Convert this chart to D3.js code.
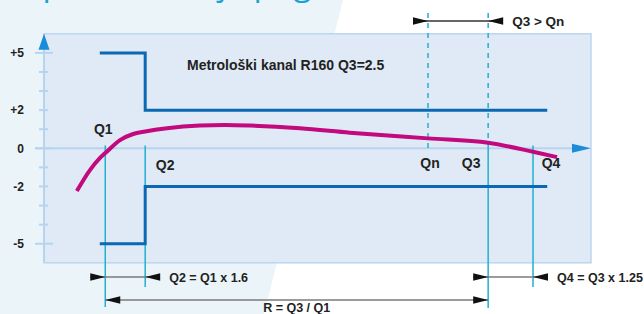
<!DOCTYPE html>
<html>
<head>
<meta charset="utf-8">
<script src="https://cdn.jsdelivr.net/npm/d3@7"></script>
<style>
  body { margin: 0; background: #fff; }
  svg { display: block; }
  text { font-family: "Liberation Sans", Arial, sans-serif; fill: #222; }
</style>
</head>
<body>
<div id="chart"></div>
<script>
// flow markers (schematic x position, 0..100) and their names
const qNames = ['Q1', 'Q2', 'Qn', 'Q3', 'Q4']
const qPos = [11.2, 18.5, 70.2, 81.2, 89.4]

// y axis ticks (error %) and labelled ones
const yTicks = [-5, -4, -3, -2, -1, 0, 1, 2, 3, 4, 5]
const yLabels = [5, 2, 0, -2, -5]

// max permissible error envelope (step at Q2)
const upperLimit = [[10.2, 5], [18.5, 5], [18.5, 2], [92.0, 2]]
const lowerLimit = [[10.2, -5], [18.5, -5], [18.5, -2], [92.0, -2]]

// measured error curve
const errX = [6.0, 8.4, 10.2, 11.2, 13.9, 16.3, 18.5, 22.5, 28.5, 33.1, 37.7, 46.8, 55.9, 70.2, 81.2, 89.4, 93.8]
const errY = [-2.24, -1.14, -0.51, -0.25, 0.43, 0.75, 0.88, 1.05, 1.19, 1.22, 1.19, 1.05, 0.82, 0.52, 0.29, -0.18, -0.46]

// dimension annotations
const dimFrom = ['Qn', 'Q1', 'Q3', 'Q1']
const dimTo = ['Q3', 'Q2', 'Q4', 'Q3']
const dimText = ['Q3 > Qn', 'Q2 = Q1 x 1.6', 'Q4 = Q3 x 1.25', 'R = Q3 / Q1']

const title = 'Tipična krivulja pogreške'
const channelText = 'Metrološki kanal R160 Q3=2.5'

const W = 644, H = 314
const svg = d3.select('#chart').append('svg')
  .attr('width', W).attr('height', H)
  .attr('viewBox', [0, 0, W, H])

// Scales
const x = d3.scaleLinear().domain([0, 100]).range([44, 591])
const y = d3.scaleLinear().domain([-6, 6]).range([262.8, 33.8])
const qx = name => x(qPos[qNames.indexOf(name)])

// Background band
svg.append('path')
  .attr('d', `M0,0 L343,0 L264,${H} L0,${H} Z`)
  .attr('fill', '#ebf4f8')

svg.append('text')
  .attr('x', 16).attr('y', -5)
  .style('font-family', '"Open Sans", sans-serif')
  .style('font-size', '33px')
  .style('fill', '#1ba3d2')
  .text(title)

// Plot area
svg.append('rect')
  .attr('x', x(0)).attr('y', y(6))
  .attr('width', x(100) - x(0)).attr('height', y(-6) - y(6))
  .attr('fill', '#dfeaf6')
  .attr('stroke', '#bcd6ee')
  .attr('stroke-width', 1.5)

// Y ticks
const axisColor = '#b7d4ee'
const longTick = d => d === 5 || d === 0 || d === -5
svg.append('g')
  .selectAll('line')
  .data(yTicks)
  .join('line')
  .attr('x1', d => longTick(d) ? x(0) - 9 : x(0) - 5)
  .attr('x2', d => longTick(d) ? x(0) + 9 : x(0) + 4)
  .attr('y1', d => y(d)).attr('y2', d => y(d))
  .attr('stroke', axisColor)
  .attr('stroke-width', 2)

svg.append('g')
  .selectAll('text')
  .data(yLabels)
  .join('text')
  .attr('x', 24)
  .attr('y', d => y(d))
  .attr('dy', '0.35em')
  .attr('text-anchor', 'end')
  .style('font-size', '12px')
  .style('font-weight', 'bold')
  .text(d => d > 0 ? '+' + d : d)

// Axes with arrow heads
const arrowBlue = '#1a8cd8'
svg.append('line')
  .attr('x1', x(0)).attr('x2', x(0))
  .attr('y1', y(6)).attr('y2', y(-6))
  .attr('stroke', axisColor).attr('stroke-width', 2)
svg.append('line')
  .attr('x1', x(0) - 9).attr('x2', x(100) - 18)
  .attr('y1', y(0)).attr('y2', y(0))
  .attr('stroke', axisColor).attr('stroke-width', 2)
svg.append('path')
  .attr('d', `M${x(0)},${y(6)} L${x(0) + 5.5},${y(6) + 16} L${x(0) - 5.5},${y(6) + 16} Z`)
  .attr('fill', arrowBlue)
svg.append('path')
  .attr('d', `M${x(100)},${y(0)} L${x(100) - 19},${y(0) - 4.5} L${x(100) - 19},${y(0) + 4.5} Z`)
  .attr('fill', arrowBlue)

// Q marker lines
const rowTop = 21, row1 = 277, row2 = 300
const qColor = '#22afd2'
const solidEnd = { Q1: row2 + 7, Q2: row1 + 10, Q3: row2 + 8, Q4: row1 + 10 }
const solidStart = { Q1: y(0.15), Q2: y(0.15), Q3: y(0.29), Q4: y(0.15) }
svg.append('g')
  .selectAll('line')
  .data(['Q1', 'Q2', 'Q3', 'Q4'])
  .join('line')
  .attr('x1', qx).attr('x2', qx)
  .attr('y1', d => solidStart[d]).attr('y2', d => solidEnd[d])
  .attr('stroke', qColor).attr('stroke-width', 1.5)
svg.append('g')
  .selectAll('line')
  .data(['Qn', 'Q3'])
  .join('line')
  .attr('x1', qx).attr('x2', qx)
  .attr('y1', rowTop - 8)
  .attr('y2', d => d === 'Qn' ? y(0) : y(0.29))
  .attr('stroke', qColor).attr('stroke-width', 1.5)
  .attr('stroke-dasharray', '5,5')

// Error limit envelope
const limitLine = d3.line().x(d => x(d[0])).y(d => y(d[1]))
svg.selectAll('path.limit')
  .data([upperLimit, lowerLimit])
  .join('path')
  .attr('class', 'limit')
  .attr('d', limitLine)
  .attr('fill', 'none')
  .attr('stroke', '#0b68b2')
  .attr('stroke-width', 3)

// Error curve
const errData = errX.map((d, i) => [d, errY[i]])
svg.append('path')
  .datum(errData)
  .attr('d', d3.line().x(d => x(d[0])).y(d => y(d[1])).curve(d3.curveMonotoneX))
  .attr('fill', 'none')
  .attr('stroke', '#c2097d')
  .attr('stroke-width', 4)

// Labels
svg.append('text')
  .attr('x', 187).attr('y', 70)
  .style('font-size', '14px').style('font-weight', 'bold')
  .text(channelText)

const qLabelDx = { Q1: -2, Q2: 20, Qn: 2, Q3: -17, Q4: 18 }
const qLabelY = { Q1: 134, Q2: 170, Qn: 168, Q3: 168, Q4: 168 }
svg.append('g')
  .selectAll('text')
  .data(qNames)
  .join('text')
  .attr('x', d => qx(d) + qLabelDx[d])
  .attr('y', d => qLabelY[d])
  .attr('text-anchor', 'middle')
  .style('font-size', '14px').style('font-weight', 'bold')
  .text(d => d)

// Dimension arrows
const head = (tipX, yy, dir) => {
  // dir: +1 points right, -1 points left
  const b = tipX - dir * 15
  return `M${tipX},${yy} L${b},${yy - 3.8} L${b},${yy + 3.8} Z`
}
const dimRow = [rowTop, row1, row1, row2]
const dims = dimText.map((t, i) => ({ a: qx(dimFrom[i]), b: qx(dimTo[i]), yy: dimRow[i], text: t, inside: i === 3 }))

const dg = svg.append('g')
dims.forEach((d, i) => {
  const x1 = d.inside ? d.a : d.a - 15
  const x2 = d.inside ? d.b : d.b + 14
  dg.append('line')
    .attr('x1', x1).attr('x2', x2)
    .attr('y1', d.yy).attr('y2', d.yy)
    .attr('stroke', i === 0 ? '#333' : '#7a7a7a')
    .attr('stroke-width', 1.5)
  dg.append('path').attr('d', d.inside ? head(d.a, d.yy, -1) : head(d.a, d.yy, 1)).attr('fill', '#111')
  dg.append('path').attr('d', d.inside ? head(d.b, d.yy, 1) : head(d.b, d.yy, -1)).attr('fill', '#111')
  if (d.inside) {
    dg.append('text')
      .attr('x', (d.a + d.b) / 2).attr('y', d.yy + 12)
      .attr('text-anchor', 'middle')
      .style('font-size', '12.5px').style('font-weight', 'bold')
      .text(d.text)
  } else {
    dg.append('text')
      .attr('x', x2 + 10).attr('y', d.yy + (i === 0 ? 5 : 4.5))
      .style('font-size', i === 0 ? '13.5px' : '12.5px').style('font-weight', 'bold')
      .text(d.text)
  }
})
</script>
</body>
</html>
